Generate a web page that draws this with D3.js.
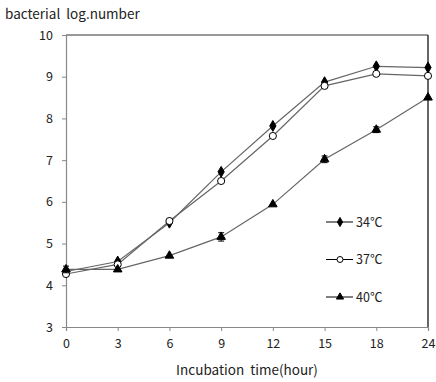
<!DOCTYPE html>
<html>
<head>
<meta charset="utf-8">
<script src="https://cdn.jsdelivr.net/npm/d3@7"></script>
<style>
  body { margin: 0; background: #fff; }
  text { font-family: "Noto Sans CJK KR", "Open Sans", sans-serif; fill: #222; white-space: pre; }
</style>
</head>
<body>
<script>
const hours = ['0', '3', '6', '9', '12', '15', '18', '24']
const temp34 = [4.33, 4.57, 5.5, 6.72, 7.82, 8.87, 9.25, 9.22]
const temp37 = [4.27, 4.5, 5.54, 6.5, 7.58, 8.78, 9.07, 9.02]
const temp40 = [4.38, 4.38, 4.71, 5.16, 5.94, 7.02, 7.73, 8.5]
const err40 = [0.08, 0, 0, 0.1, 0, 0.08, 0.07, 0]
const yTicks = [3, 4, 5, 6, 7, 8, 9, 10]

const series = [
  { name: '34\u2103', values: temp34, symbol: d3.symbolDiamond, size: 34, fill: '#000' },
  { name: '37\u2103', values: temp37, symbol: d3.symbolCircle, size: 40, fill: '#fff' },
  { name: '40\u2103', values: temp40, symbol: d3.symbolTriangle, size: 32, fill: '#000', err: err40 }
]

const width = 436
const height = 382
const margin = { top: 35, right: 8, bottom: 55, left: 66 }

const svg = d3.select('body').append('svg')
  .attr('width', width)
  .attr('height', height)

const x = d3.scalePoint()
  .domain(hours)
  .range([margin.left, width - margin.right])

const y = d3.scaleLinear()
  .domain([3, 10])
  .range([height - margin.bottom, margin.top])

// frame: grey top, black right
svg.append('line')
  .attr('x1', margin.left).attr('x2', width - margin.right)
  .attr('y1', margin.top).attr('y2', margin.top)
  .attr('stroke', '#777').attr('stroke-width', 1.5)
svg.append('line')
  .attr('x1', width - margin.right).attr('x2', width - margin.right)
  .attr('y1', margin.top).attr('y2', height - margin.bottom)
  .attr('stroke', '#000').attr('stroke-width', 1.2)

const xAxis = svg.append('g')
  .attr('transform', `translate(0,${height - margin.bottom})`)
  .call(d3.axisBottom(x).tickSize(4).tickPadding(8))
const yAxis = svg.append('g')
  .attr('transform', `translate(${margin.left},0)`)
  .call(d3.axisLeft(y).tickValues(yTicks).tickFormat(d3.format('d')).tickSize(4).tickPadding(9))

for (const ax of [xAxis, yAxis]) {
  ax.select('.domain').attr('stroke', '#888').attr('stroke-width', 1.2)
  ax.selectAll('.tick line').attr('stroke', '#888')
  ax.selectAll('.tick text').attr('font-size', 12.5).style('fill', '#222')
}

const line = d3.line()
  .x((d, i) => x(hours[i]))
  .y(d => y(d))

for (const s of series) {
  svg.append('path')
    .datum(s.values)
    .attr('d', line)
    .attr('fill', 'none')
    .attr('stroke', '#666')
    .attr('stroke-width', 1.2)
}

for (const s of series) {
  if (s.err) {
    const g = svg.append('g').attr('stroke', '#000').attr('stroke-width', 1)
    s.values.forEach((v, i) => {
      if (!s.err[i]) return
      const cx = x(hours[i])
      g.append('line').attr('x1', cx).attr('x2', cx).attr('y1', y(v - s.err[i])).attr('y2', y(v + s.err[i]))
      g.append('line').attr('x1', cx - 3).attr('x2', cx + 3).attr('y1', y(v + s.err[i])).attr('y2', y(v + s.err[i]))
      g.append('line').attr('x1', cx - 3).attr('x2', cx + 3).attr('y1', y(v - s.err[i])).attr('y2', y(v - s.err[i]))
    })
  }
  svg.append('g').selectAll('path')
    .data(s.values)
    .join('path')
    .attr('transform', (d, i) => `translate(${x(hours[i])},${y(d)})`)
    .attr('d', d3.symbol().type(s.symbol).size(s.size))
    .attr('fill', s.fill)
    .attr('stroke', '#000')
    .attr('stroke-width', 1)
}

// legend
const legend = svg.append('g')
series.forEach((s, i) => {
  const ly = 222 + i * 37.5
  legend.append('line')
    .attr('x1', 326).attr('x2', 353).attr('y1', ly).attr('y2', ly)
    .attr('stroke', '#000').attr('stroke-width', 1)
  legend.append('path')
    .attr('transform', `translate(340,${ly})`)
    .attr('d', d3.symbol().type(s.symbol).size(s.size * 0.7))
    .attr('fill', s.fill)
    .attr('stroke', '#000')
  legend.append('text')
    .attr('x', 356).attr('y', ly + 4.5)
    .attr('font-size', 12.5)
    .text(s.name)
})

svg.append('text')
  .attr('x', 5).attr('y', 19)
  .attr('font-size', 13.5)
  .text('bacterial  log.number')

svg.append('text')
  .attr('x', 247).attr('y', 375)
  .attr('text-anchor', 'middle')
  .attr('font-size', 13.5)
  .text('Incubation  time(hour)')
</script>
</body>
</html>
